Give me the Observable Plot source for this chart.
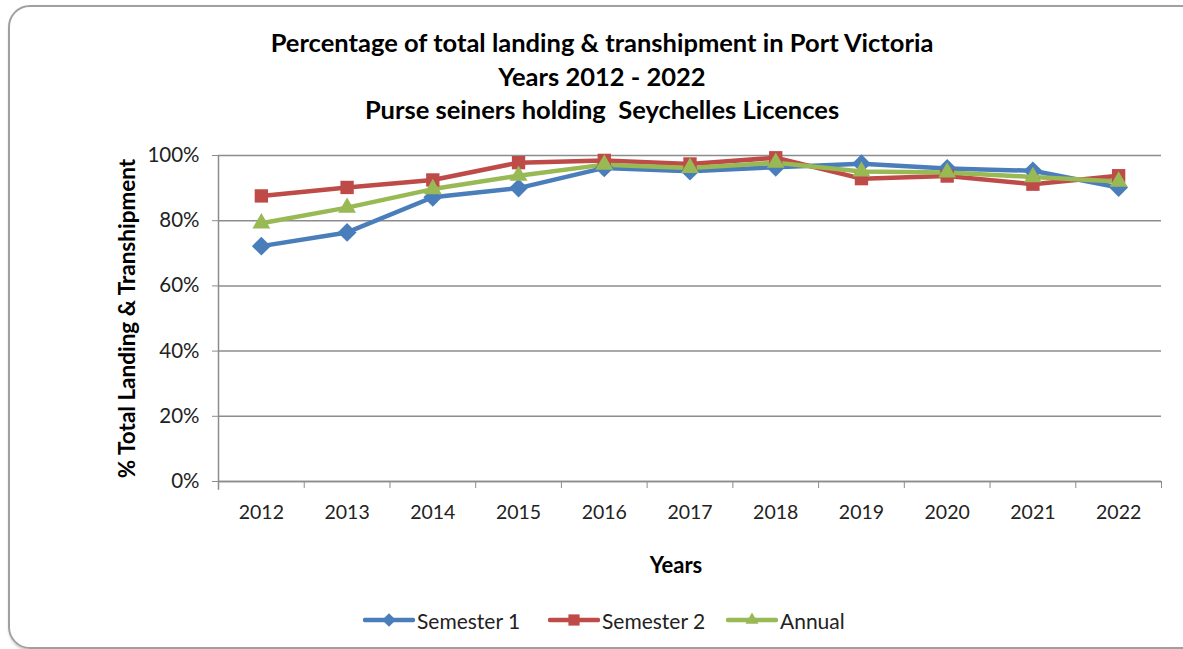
<!DOCTYPE html>
<html>
<head>
<meta charset="utf-8">
<script src="https://cdn.jsdelivr.net/npm/d3@7"></script>
<script src="https://cdn.jsdelivr.net/npm/@observablehq/plot@0.6"></script>
<style>
  html, body { margin: 0; padding: 0; background: #fff; }
  #wrap { position: relative; width: 1183px; height: 649px; overflow: hidden; font-family: Lato, "Open Sans", sans-serif; }
  #frame { position: absolute; left: 8px; top: 5px; width: 1200px; height: 640px; border: 2px solid #a0a0a0; border-radius: 22px; box-shadow: 1px 2px 3px rgba(0,0,0,0.25); }
  #title { position: absolute; left: 0; width: 1204px; top: 26px; text-align: center; font-weight: bold; font-size: 25.5px; line-height: 33.5px; color: #000; }
  #chart { position: absolute; left: 0; top: 0; }
  #legend { position: absolute; top: 606px; left: 0; width: 1183px; height: 28px; font-size: 21px; color: #222; }
  .item { position: absolute; top: 0; display: flex; align-items: center; height: 28px; }
  .item svg { margin-right: 2px; }
</style>
</head>
<body>
<div id="wrap">
  <div id="frame"></div>
  <div id="title">Percentage of total landing &amp; transhipment in Port Victoria<br>Years 2012 - 2022<br>Purse seiners holding&nbsp; Seychelles Licences</div>
  <div id="chart"></div>
  <div id="legend"></div>
</div>
<script>
const years = [2012, 2013, 2014, 2015, 2016, 2017, 2018, 2019, 2020, 2021, 2022];
const semester1 = [0.722, 0.764, 0.872, 0.900, 0.962, 0.952, 0.964, 0.975, 0.960, 0.953, 0.902];
const semester2 = [0.876, 0.902, 0.925, 0.978, 0.985, 0.974, 0.993, 0.929, 0.937, 0.912, 0.938];
const annual    = [0.792, 0.840, 0.897, 0.938, 0.972, 0.962, 0.978, 0.951, 0.948, 0.934, 0.920];
const seriesNames = ["Semester 1", "Semester 2", "Annual"];
const seriesColors = ["#4a7ebb", "#be4b48", "#98b954"];
const seriesSymbols = ["diamond2", "square2", "triangle2"];
const yTicks = [0, 0.2, 0.4, 0.6, 0.8, 1.0];

const rows = [];
[semester1, semester2, annual].forEach((vals, i) => {
  years.forEach((yr, j) => rows.push({series: seriesNames[i], year: yr, value: vals[j]}));
});
const boundaries = years.map(y => y - 0.5).concat([years[years.length - 1] + 0.5]);

const chart = Plot.plot({
  width: 1183,
  height: 649,
  marginLeft: 218,
  marginRight: 22,
  marginTop: 155,
  marginBottom: 168,
  style: {fontFamily: "Lato, 'Open Sans', sans-serif", fontSize: "20px", color: "#222", background: "transparent"},
  x: {type: "linear", domain: [boundaries[0], boundaries[boundaries.length - 1]]},
  y: {domain: [0, 1]},
  color: {domain: seriesNames, range: seriesColors},
  symbol: {domain: seriesNames, range: seriesSymbols},
  marks: [
    Plot.gridY(yTicks, {stroke: "#8c8c8c", strokeOpacity: 1, strokeWidth: 1.5}),
    Plot.ruleX([boundaries[0]], {y1: -0.027, y2: 1, stroke: "#8c8c8c", strokeWidth: 1.5, clip: false}),
    Plot.axisY(yTicks, {tickFormat: d3.format(".0%"), tickSize: 6, tickPadding: 13, stroke: "#8c8c8c", fontSize: 20.5, label: null}),
    Plot.axisX(boundaries, {tickFormat: () => "", tickSize: 7, stroke: "#8c8c8c", label: null}),
    Plot.axisX(years, {tickFormat: d => String(d), tickSize: 0, tickPadding: 24, fontSize: 19.5, label: null}),
    Plot.ruleY([0], {stroke: "#8c8c8c", strokeWidth: 1.5}),
    Plot.line(rows, {x: "year", y: "value", z: "series", stroke: "series", strokeWidth: 4.5}),
    Plot.dot(rows, {x: "year", y: "value", symbol: "series", fill: "series", r: 8.5, stroke: null}),
    Plot.text(["Years"], {frameAnchor: "bottom", dx: -14, dy: 91, fontWeight: "bold", fontSize: 22, fill: "#000"}),
    Plot.text(["% Total Landing & Transhipment"], {frameAnchor: "left", textAnchor: "middle", dx: -91, rotate: -90, fontWeight: "bold", fontSize: 22.5, fill: "#000"})
  ]
});
document.getElementById("chart").appendChild(chart);

const legendLeft = [363, 548, 726];
const legend = document.getElementById("legend");
seriesNames.forEach((name, i) => {
  const item = document.createElement("div");
  item.className = "item";
  item.style.left = legendLeft[i] + "px";
  const sym = d3.symbol().type(i === 0 ? d3.symbolDiamond2 : i === 1 ? d3.symbolSquare2 : d3.symbolTriangle2).size(i === 1 ? 160 : 120)();
  item.innerHTML = `<svg width="52" height="26"><line x1="2" x2="50" y1="13" y2="13" stroke="${seriesColors[i]}" stroke-width="4.5" stroke-linecap="round"/><path d="${sym}" transform="translate(26,13)" fill="${seriesColors[i]}"/></svg><span>${name}</span>`;
  legend.appendChild(item);
});
</script>
</body>
</html>
